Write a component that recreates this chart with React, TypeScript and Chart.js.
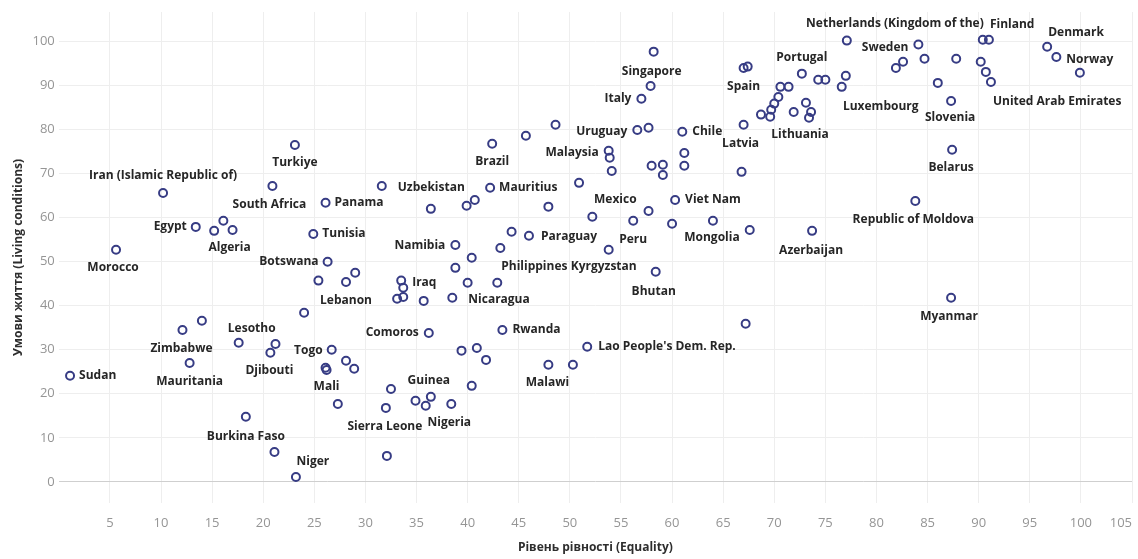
import { useEffect, useRef } from 'react';
import { Chart, registerables } from 'chart.js';

Chart.register(...registerables);

// ---- Data ----
const countries: string[] = [
  'Sudan', 'Morocco', 'Iran (Islamic Republic of)', 'Egypt', '', '', 'Algeria', 'Turkiye', 'South Africa', 'Panama',
  'Tunisia', 'Botswana', 'Uzbekistan', '', '', '', 'Mauritius', 'Brazil', '', '',
  'Uruguay', '', 'Chile', 'Malaysia', '', '', '', '', '', '',
  '', '', '', 'Mexico', 'Peru', '', 'Viet Nam', '', 'Mongolia', 'Kyrgyzstan',
  'Paraguay', '', 'Namibia', 'Philippines', '', '', '', '', 'Bhutan', '',
  'Lebanon', '', 'Iraq', '', '', '', '', 'Nicaragua', '', 'Comoros',
  'Rwanda', '', '', '', "Lao People's Dem. Rep.", 'Malawi', '', '', 'Sierra Leone', '',
  '', 'Guinea', 'Nigeria', '', '', 'Zimbabwe', '', 'Mauritania', 'Lesotho', '',
  'Djibouti', 'Togo', 'Mali', '', '', '', '', 'Burkina Faso', '', 'Niger',
  'Singapore', '', 'Italy', 'Spain', '', 'Latvia', '', '', '', 'Azerbaijan',
  'Portugal', '', '', '', '', '', '', '', '', '',
  '', 'Lithuania', '', '', '', 'Luxembourg', '', 'Sweden', '', '',
  '', '', '', 'Slovenia', 'Netherlands (Kingdom of the)', 'Finland', '', '', 'United Arab Emirates', 'Denmark',
  'Norway', '', 'Belarus', 'Republic of Moldova', 'Myanmar',
];

const equality: number[] = [
  1.1, 5.6, 10.2, 13.4, 15.2, 16.1, 17.0, 23.1, 20.9, 26.1,
  24.9, 26.3, 31.6, 36.4, 39.9, 40.7, 42.2, 42.4, 45.7, 48.6,
  56.6, 57.7, 61.0, 53.8, 53.9, 54.1, 58.0, 59.1, 59.1, 61.2,
  61.2, 50.9, 47.9, 52.2, 56.2, 57.7, 60.3, 60.0, 64.0, 53.8,
  46.0, 44.3, 38.8, 43.2, 40.4, 38.8, 40.0, 42.9, 58.4, 25.4,
  28.1, 29.0, 33.5, 33.7, 33.1, 33.7, 35.7, 38.5, 24.0, 36.2,
  43.4, 39.4, 40.9, 41.8, 51.7, 47.9, 50.3, 32.5, 32.0, 34.9,
  35.9, 36.4, 38.4, 40.4, 32.1, 12.1, 14.0, 12.8, 17.6, 21.2,
  20.7, 26.7, 26.1, 26.2, 28.1, 28.9, 27.3, 18.3, 21.1, 23.2,
  58.2, 57.9, 57.0, 67.0, 67.4, 67.0, 66.8, 67.2, 67.6, 73.7,
  72.7, 70.6, 71.4, 70.4, 70.0, 69.7, 68.7, 69.6, 71.9, 73.1,
  73.6, 73.4, 74.3, 75.0, 77.0, 76.6, 77.1, 84.1, 81.9, 82.6,
  84.7, 87.8, 86.0, 87.3, 90.4, 91.0, 90.2, 90.7, 91.2, 96.7,
  97.6, 99.9, 87.4, 83.8, 87.3,
];

const livingConditions: number[] = [
  24.1, 52.7, 65.6, 57.9, 57.0, 59.3, 57.2, 76.5, 67.2, 63.4,
  56.3, 50.0, 67.2, 62.0, 62.7, 64.0, 66.8, 76.8, 78.6, 81.1,
  79.9, 80.4, 79.5, 75.2, 73.6, 70.6, 71.8, 72.0, 69.7, 74.7,
  71.8, 67.9, 62.5, 60.2, 59.3, 61.5, 64.0, 58.6, 59.3, 52.7,
  55.9, 56.8, 53.8, 53.1, 50.9, 48.6, 45.2, 45.2, 47.7, 45.7,
  45.4, 47.5, 45.7, 44.1, 41.6, 42.0, 41.1, 41.8, 38.4, 33.8,
  34.5, 29.8, 30.4, 27.7, 30.7, 26.6, 26.6, 21.1, 16.8, 18.4,
  17.3, 19.3, 17.7, 21.8, 5.9, 34.5, 36.6, 27.0, 31.6, 31.3,
  29.3, 30.0, 25.9, 25.4, 27.5, 25.7, 17.7, 14.8, 6.8, 1.1,
  97.7, 89.9, 87.0, 94.0, 94.3, 81.1, 70.4, 35.9, 57.2, 57.0,
  92.7, 89.7, 89.7, 87.4, 85.9, 84.5, 83.4, 82.9, 84.0, 86.1,
  84.0, 82.7, 91.3, 91.3, 92.2, 89.7, 100.2, 99.3, 94.0, 95.4,
  96.1, 96.1, 90.6, 86.5, 100.4, 100.4, 95.4, 93.1, 90.8, 98.8,
  96.5, 92.9, 75.4, 63.8, 41.8,
];

const xTickValues: number[] = [0, 5, 10, 15, 20, 25, 30, 35, 40, 45, 50, 55, 60, 65, 70, 75, 80, 85, 90, 95, 100, 105];
const yTickValues: number[] = [0, 10, 20, 30, 40, 50, 60, 70, 80, 90, 100];

const xTitle = 'Рівень рівності (Equality)';
const yTitle = 'Умови життя (Living conditions)';

// ---- Label placement (style): [textAlign, dx, dy] relative to the point ----
const labelPlacement: Record<string, [CanvasTextAlign, number, number]> = {
  'Sudan': ['left', 9, 0],
  'Morocco': ['center', -3, 18],
  'Iran (Islamic Republic of)': ['center', 0, -17],
  'Egypt': ['right', -9, 0],
  'Algeria': ['center', -3, 18],
  'Turkiye': ['center', 0, 18],
  'South Africa': ['center', -3, 19],
  'Panama': ['left', 9, 0],
  'Tunisia': ['left', 9, 0],
  'Botswana': ['right', -9, 0],
  'Uzbekistan': ['left', 16, 2],
  'Mauritius': ['left', 9, 0],
  'Brazil': ['center', 0, 18],
  'Uruguay': ['right', -10, 2],
  'Chile': ['left', 10, 0],
  'Malaysia': ['right', -10, 2],
  'Mexico': ['center', 23, -17],
  'Peru': ['center', 0, 19],
  'Viet Nam': ['left', 10, 0],
  'Mongolia': ['center', -1, 17],
  'Kyrgyzstan': ['center', -5, 17],
  'Paraguay': ['left', 12, 1],
  'Namibia': ['right', -10, 1],
  'Philippines': ['center', 34, 19],
  'Bhutan': ['center', -2, 20],
  'Lebanon': ['center', 0, 19],
  'Iraq': ['left', 11, 2],
  'Nicaragua': ['left', 16, 2],
  'Comoros': ['right', -10, 0],
  'Rwanda': ['left', 10, 0],
  "Lao People's Dem. Rep.": ['left', 11, 0],
  'Malawi': ['center', -1, 18],
  'Sierra Leone': ['center', -1, 19],
  'Guinea': ['center', -2, -16],
  'Nigeria': ['center', -2, 19],
  'Zimbabwe': ['center', -1, 19],
  'Mauritania': ['center', 0, 19],
  'Lesotho': ['center', 13, -14],
  'Djibouti': ['center', -1, 18],
  'Togo': ['right', -9, 1],
  'Mali': ['center', 1, 19],
  'Burkina Faso': ['center', 0, 20],
  'Niger': ['center', 17, -15],
  'Singapore': ['center', -2, 20],
  'Italy': ['right', -10, 0],
  'Spain': ['center', 0, 19],
  'Latvia': ['center', -3, 19],
  'Portugal': ['center', 0, -16],
  'Lithuania': ['center', -9, 17],
  'Luxembourg': ['center', 39, 20],
  'Netherlands (Kingdom of the)': ['right', 1, -16],
  'Finland': ['left', 1, -15],
  'Sweden': ['right', -10, 3],
  'Slovenia': ['center', -1, 17],
  'United Arab Emirates': ['left', 2, 20],
  'Denmark': ['left', 1, -14],
  'Norway': ['left', 10, 3],
  'Belarus': ['center', -1, 18],
  'Republic of Moldova': ['center', -2, 19],
  'Azerbaijan': ['center', -1, 20],
  'Myanmar': ['center', -2, 19],
};

const FONT = "'Open Sans', 'Noto Sans', sans-serif";
const POINT_COLOR = '#373c84';

const pointLabelsPlugin = {
  id: 'pointLabels',
  afterDatasetsDraw(chart: any) {
    const meta = chart.getDatasetMeta(0);
    const ctx = chart.ctx as CanvasRenderingContext2D;
    ctx.save();
    ctx.font = `700 12px ${FONT}`;
    ctx.fillStyle = '#262626';
    ctx.textBaseline = 'middle';
    meta.data.forEach((el: any, i: number) => {
      const name = countries[i];
      if (!name) return;
      const place = labelPlacement[name] || ['center', 0, 18];
      ctx.textAlign = place[0];
      ctx.fillText(name, el.x + place[1], el.y + place[2]);
    });
    ctx.restore();
  },
};

export default function App() {
  const canvasRef = useRef<HTMLCanvasElement | null>(null);

  useEffect(() => {
    if (!canvasRef.current) return;
    const points = equality.map((x, i) => ({ x, y: livingConditions[i] }));
    const chart = new Chart(canvasRef.current, {
      type: 'scatter',
      data: {
        datasets: [
          {
            data: points,
            pointRadius: 4,
            pointHoverRadius: 4,
            pointBorderWidth: 2,
            pointBackgroundColor: 'rgba(255,255,255,0)',
            pointBorderColor: POINT_COLOR,
          },
        ],
      },
      options: {
        animation: false,
        responsive: false,
        maintainAspectRatio: false,
        layout: { padding: { top: 12, right: 1, left: 0, bottom: 0 } },
        plugins: {
          legend: { display: false },
          tooltip: { enabled: false },
        },
        scales: {
          x: {
            type: 'linear',
            min: 0,
            max: 105,
            afterBuildTicks: (scale: any) => {
              scale.ticks = xTickValues.map((v) => ({ value: v }));
            },
            afterFit: (scale: any) => {
              scale.height = 56;
              scale.paddingLeft = 0;
              scale.paddingRight = 0;
            },
            border: { display: false },
            grid: {
              drawTicks: false,
              lineWidth: 1,
              color: (c: any) => (c.tick && c.tick.value === 0 ? 'rgba(0,0,0,0)' : '#eeeeee'),
            },
            ticks: {
              align: 'inner',
              padding: 12,
              autoSkip: false,
              maxRotation: 0,
              color: '#959595',
              font: { family: FONT, size: 13 },
              callback: (v: any) => (v === 0 ? '' : String(v)),
            },
            title: {
              display: true,
              text: xTitle,
              color: '#2e2e2e',
              font: { family: FONT, size: 12, weight: 'bold' },
              padding: { top: 0, bottom: 4 },
            },
          },
          y: {
            type: 'linear',
            min: -4.8,
            max: 106.7,
            afterBuildTicks: (scale: any) => {
              scale.ticks = yTickValues.map((v) => ({ value: v }));
            },
            afterFit: (scale: any) => {
              scale.width = 58.8;
              scale.paddingTop = 0;
              scale.paddingBottom = 0;
            },
            border: { display: false },
            grid: {
              drawTicks: false,
              lineWidth: 1,
              color: (c: any) => (c.tick && c.tick.value === 0 ? '#cfcfcf' : '#eeeeee'),
            },
            ticks: {
              padding: 4,
              color: '#959595',
              font: { family: FONT, size: 13 },
              callback: (v: any) => String(v),
            },
            title: {
              display: true,
              text: yTitle,
              color: '#2e2e2e',
              font: { family: FONT, size: 12, weight: 'bold' },
              padding: { top: 11, bottom: 0 },
            },
          },
        },
      },
      plugins: [pointLabelsPlugin],
    } as any);
    return () => chart.destroy();
  }, []);

  return (
    <div style={{ position: 'fixed', left: 0, top: 0, width: 1138, height: 559, background: '#ffffff' }}>
      <canvas ref={canvasRef} width={1138} height={559} style={{ display: 'block', width: 1138, height: 559 }} />
    </div>
  );
}
